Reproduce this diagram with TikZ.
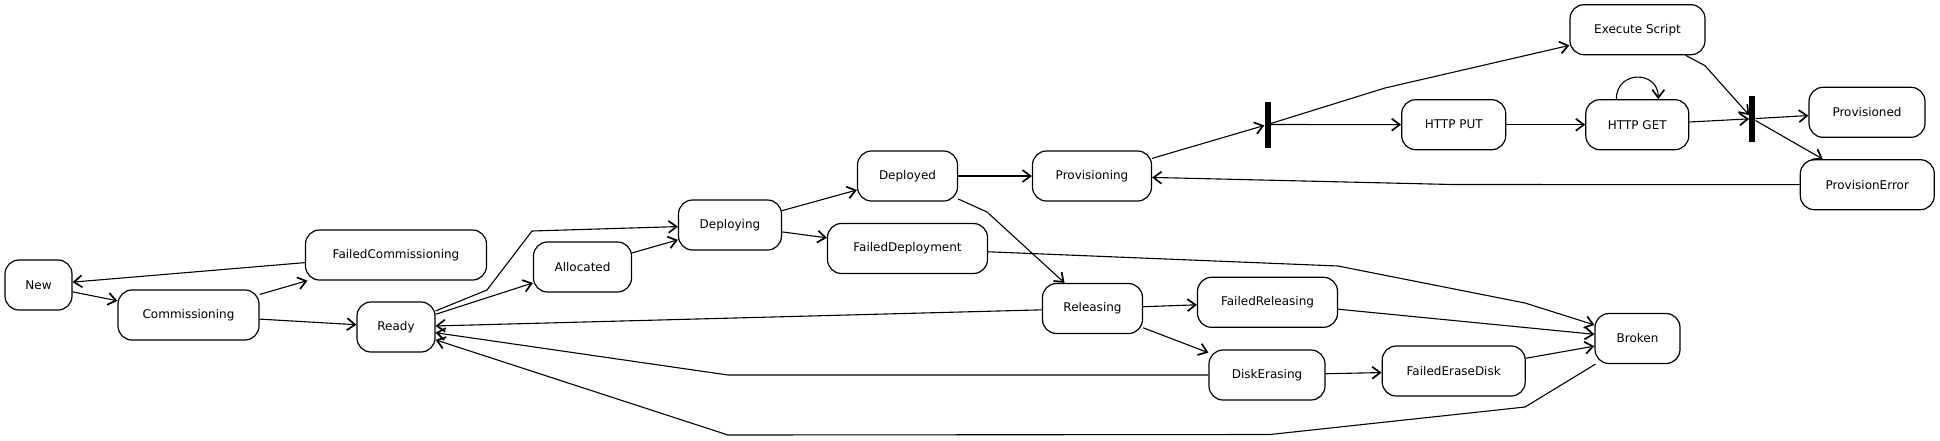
\documentclass[tikz,border=0pt]{standalone}
\usepackage{fontspec}
\setmainfont{DejaVu Sans}
\usetikzlibrary{arrows.meta}
\begin{document}
\begin{tikzpicture}[x=1pt,y=-1pt,
  state/.style={draw, line width=1.2pt, rounded corners=14pt, minimum height=50pt, inner sep=0pt, font=\fontsize{12pt}{14pt}\selectfont},
  bar/.style={fill=black, draw=none, minimum width=6pt, minimum height=46pt, inner sep=0pt},
  edge/.style={draw, line width=1.1pt, -{Straight Barb[length=8pt,width=12pt,line width=1.7pt]}},
]
\useasboundingbox (0,0) rectangle (1940,440);
% states
\node[state, minimum width=67pt]  (new)       at (38.5,285)   {New};
\node[state, minimum width=141pt] (comm)      at (188.5,315)  {Commissioning};
\node[state, minimum width=181pt] (failcomm)  at (396,255)    {FailedCommissioning};
\node[state, minimum width=78pt]  (ready)     at (396,327)    {Ready};
\node[state, minimum width=98pt]  (alloc)     at (582.5,267)  {Allocated};
\node[state, minimum width=103pt] (deploying) at (730,225)    {Deploying};
\node[state, minimum width=100pt] (deployed)  at (907.5,176)  {Deployed};
\node[state, minimum width=160pt] (faildep)   at (907.5,248.5){FailedDeployment};
\node[state, minimum width=119pt] (prov)      at (1092,176)   {Provisioning};
\node[state, minimum width=100pt] (releasing) at (1092.5,308.5){Releasing};
\node[state, minimum width=140pt] (failrel)   at (1267.5,302.3){FailedReleasing};
\node[state, minimum width=116pt] (diskerase) at (1267,375)   {DiskErasing};
\node[state, minimum width=143pt] (failerase) at (1453.7,371) {FailedEraseDisk};
\node[state, minimum width=85pt]  (broken)    at (1637.5,338.5){Broken};
\node[bar] (bar1) at (1267.5,124.5) {};
\node[state, minimum width=104pt] (httpput)   at (1453.7,124.7){HTTP PUT};
\node[state, minimum width=103pt] (httpget)   at (1637.3,124.7){HTTP GET};
\node[state, minimum width=135pt] (exec)      at (1637.5,29.7) {Execute Script};
\node[bar] (bar2) at (1752.3,118.7) {};
\node[state, minimum width=116pt] (provd)     at (1867,112.3) {Provisioned};
\node[state, minimum width=134pt] (proverr)   at (1867.3,184.7){ProvisionError};
% bend points
\coordinate (rd1) at (487,290);
\coordinate (rd2) at (532,231);
\coordinate (dr1) at (987,212);
\coordinate (fb1) at (1338,266);
\coordinate (fb2) at (1525,303);
\coordinate (der1) at (728,375);
\coordinate (br1) at (1525,407);
\coordinate (br2) at (1270,434.5);
\coordinate (br3) at (728,435);
\coordinate (be1) at (1385,88);
\coordinate (eb1) at (1705,65.7);
\coordinate (pp1) at (1452,184.5);
% edges
\draw[edge] (new) -- (comm);
\draw[edge] (comm) -- (failcomm);
\draw[edge] (failcomm) -- (new);
\draw[edge] (comm) -- (ready);
\draw[edge] (ready) -- (alloc);
\draw[edge] (ready) -- (rd1) -- (rd2) -- (deploying);
\draw[edge] (alloc) -- (deploying);
\draw[edge] (deploying) -- (deployed);
\draw[edge] (deploying) -- (faildep);
\draw[edge] (deployed) -- (prov);
\draw[edge] (deployed) -- (dr1) -- (releasing);
\draw[edge] (faildep) -- (fb1) -- (fb2) -- (broken);
\draw[edge] (releasing) -- (ready);
\draw[edge] (releasing) -- (failrel);
\draw[edge] (releasing) -- (diskerase);
\draw[edge] (diskerase) -- (failerase);
\draw[edge] (diskerase) -- (der1) -- (ready);
\draw[edge] (failrel) -- (broken);
\draw[edge] (failerase) -- (broken);
\draw[edge] (broken) -- (br1) -- (br2) -- (br3) -- (ready);
\draw[edge] (prov) -- (bar1);
\draw[edge] (bar1) -- (httpput);
\draw[edge] (bar1) -- (be1) -- (exec);
\draw[edge] (httpput) -- (httpget);
\draw[edge] (httpget) -- (bar2);
\draw[edge] (exec) -- (eb1) -- (bar2);
\draw[edge] (bar2) -- (provd);
\draw[edge] (bar2) -- (proverr);
\draw[edge] (proverr) -- (pp1) -- (prov);
\draw[edge] ([xshift=-21pt]httpget.north) .. controls +(0,29pt) and +(0,29pt) .. ([xshift=21pt]httpget.north);
\end{tikzpicture}
\end{document}
